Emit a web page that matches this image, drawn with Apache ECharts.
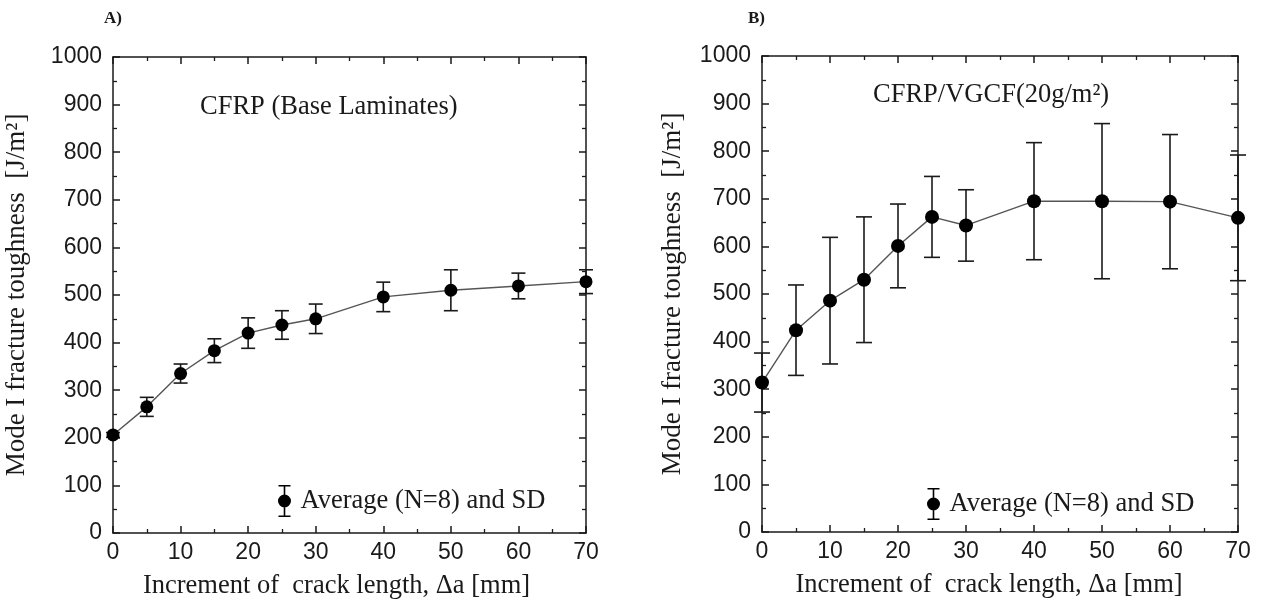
<!DOCTYPE html>
<html>
<head>
<meta charset="utf-8">
<script src="https://cdn.jsdelivr.net/npm/echarts@6/dist/echarts.min.js"></script>
<style>
html,body{margin:0;padding:0;background:#fff;}
#chart{width:1264px;height:603px;}
</style>
</head>
<body>
<div id="chart"></div>
<script>
// ---- data ----
const crackIncrement = [0, 5, 10, 15, 20, 25, 30, 40, 50, 60, 70];
const baseMean = [206, 265, 335, 383, 420, 437, 450, 496, 510, 519, 528];
const baseSD   = [5, 20, 20, 25, 32, 30, 31, 31, 43, 27, 25];
const vgcfMean = [314, 424, 486, 530, 601, 662, 644, 695, 695, 694, 660];
const vgcfSD   = [62, 95, 133, 132, 88, 85, 75, 123, 163, 141, 132];
const panelTitles = ['A)', 'B)'];
const panelNotes = ['CFRP (Base Laminates)', 'CFRP/VGCF(20g/m²)'];
const legendLabel = 'Average (N=8) and SD';
const xTitle = 'Increment of  crack length, \u0394a [mm]';
const yTitle = 'Mode I fracture toughness  [J/m²]';
const xMin = 0, xMax = 70, xStep = 10;
const yMin = 0, yMax = 1000, yStep = 100;

const SANS = '"Liberation Sans", Arial, sans-serif';
const SERIF = '"Liberation Serif", "Times New Roman", serif';
const INK = '#1a1a1a';

const chart = echarts.init(document.getElementById('chart'));

function pts(means){ return crackIncrement.map((x,i)=>[x, means[i]]); }
function errRows(means, sds){ return crackIncrement.map((x,i)=>[x, means[i], sds[i]]); }

function errRender(capHalf){
  return function(params, api){
    const x = api.value(0), m = api.value(1), s = api.value(2);
    const hi = api.coord([x, m + s]);
    const lo = api.coord([x, m - s]);
    const st = {stroke: INK, lineWidth: 1.6};
    return {type:'group', children:[
      {type:'line', shape:{x1:hi[0], y1:hi[1], x2:lo[0], y2:lo[1]}, style:st},
      {type:'line', shape:{x1:hi[0]-capHalf, y1:hi[1], x2:hi[0]+capHalf, y2:hi[1]}, style:st},
      {type:'line', shape:{x1:lo[0]-capHalf, y1:lo[1], x2:lo[0]+capHalf, y2:lo[1]}, style:st}
    ]};
  };
}

const plain = v => String(v);
function tickCfg(){
  return {
    axisTick:{show:true, inside:true, length:7, lineStyle:{color:INK, width:1.5}},
    minorTick:{show:true, splitNumber:2, length:4, lineStyle:{color:INK, width:1.3}}
  };
}
const line = {show:true, onZero:false, lineStyle:{color:INK, width:1.5}};
function mainX(gi, shiftPad){
  return Object.assign({type:'value', gridIndex:gi, position:'bottom', min:xMin, max:xMax, interval:xStep,
    axisLine:line, splitLine:{show:false},
    axisLabel:{fontFamily:SANS, fontSize:23, color:INK, margin:8, formatter:plain},
    name:xTitle, nameLocation:'middle', nameGap:40,
    nameTextStyle:{fontFamily:SERIF, fontSize:26.5, color:INK, padding:[0, shiftPad, 0, 0]}}, tickCfg());
}
function mirrorX(gi){
  return Object.assign({type:'value', gridIndex:gi, position:'top', min:xMin, max:xMax, interval:xStep,
    axisLine:line, splitLine:{show:false}, axisLabel:{show:false}}, tickCfg());
}
function mainY(gi, gap){
  return Object.assign({type:'value', gridIndex:gi, position:'left', min:yMin, max:yMax, interval:yStep,
    axisLine:line, splitLine:{show:false},
    axisLabel:{fontFamily:SANS, fontSize:23, color:INK, margin:11, formatter:plain},
    name:yTitle, nameLocation:'middle', nameGap:gap, nameRotate:90,
    nameTextStyle:{fontFamily:SERIF, fontSize:27, color:INK}}, tickCfg());
}
function mirrorY(gi){
  return Object.assign({type:'value', gridIndex:gi, position:'right', min:yMin, max:yMax, interval:yStep,
    axisLine:line, splitLine:{show:false}, axisLabel:{show:false}}, tickCfg());
}

const legendIcon = 'path://M2,0H14V1.6H2Z M7.2,0H8.8V32H7.2Z M2,30.4H14V32H2Z M8,9.5A6.5,6.5 0 1,1 8,22.5A6.5,6.5 0 1,1 8,9.5Z';
function legendAt(left, top, seriesIdx){
  return {left, top, padding:0, itemWidth:16, itemHeight:32, itemGap:0,
    icon: legendIcon, selectedMode:false,
    data:[{name: legendLabel + (seriesIdx ? '\u200b' : '')}],
    textStyle:{fontFamily:SERIF, fontSize:26.5, color:INK, padding:[0,0,0,3]}};
}

const option = {
  animation:false,
  backgroundColor:'#fff',
  grid:[
    {left:113, top:57, width:473, height:476, outerBoundsMode:'none', containLabel:false},
    {left:762, top:56, width:476, height:476, outerBoundsMode:'none', containLabel:false}
  ],
  xAxis:[mainX(0, 26), mirrorX(0), mainX(1, 22), mirrorX(1)],
  yAxis:[mainY(0, 83), mirrorY(0), mainY(1, 76), mirrorY(1)],
  legend:[legendAt(278, 485, 0), legendAt(927, 488, 1)],
  series:[
    {type:'line', name:'lineA', xAxisIndex:0, yAxisIndex:0, data:pts(baseMean), showSymbol:false,
     lineStyle:{color:'#555', width:1.4}, z:2},
    {type:'custom', name:'errA', xAxisIndex:0, yAxisIndex:0, data:errRows(baseMean, baseSD),
     renderItem:errRender(7), encode:{x:0, y:1}, z:3, clip:false},
    {type:'scatter', name:legendLabel, xAxisIndex:0, yAxisIndex:0, data:pts(baseMean),
     symbol:'circle', symbolSize:13, itemStyle:{color:'#000', opacity:1}, z:4},
    {type:'line', name:'lineB', xAxisIndex:2, yAxisIndex:2, data:pts(vgcfMean), showSymbol:false,
     lineStyle:{color:'#555', width:1.4}, z:2},
    {type:'custom', name:'errB', xAxisIndex:2, yAxisIndex:2, data:errRows(vgcfMean, vgcfSD),
     renderItem:errRender(8), encode:{x:0, y:1}, z:3, clip:false},
    {type:'scatter', name:legendLabel + '\u200b', xAxisIndex:2, yAxisIndex:2, data:pts(vgcfMean),
     symbol:'circle', symbolSize:14, itemStyle:{color:'#000', opacity:1}, z:4}
  ],
  graphic:[
    {type:'text', left:104, top:10, style:{text:panelTitles[0], font:'bold 17px ' + SERIF, fill:INK}},
    {type:'text', left:748, top:10, style:{text:panelTitles[1], font:'bold 17px ' + SERIF, fill:INK}},
    {type:'text', left:200, top:94, style:{text:panelNotes[0], font:'26.5px ' + SERIF, fill:INK}},
    {type:'text', left:873, top:82, style:{text:panelNotes[1], font:'26.5px ' + SERIF, fill:INK}}
  ]
};
chart.setOption(option);
</script>
</body>
</html>
